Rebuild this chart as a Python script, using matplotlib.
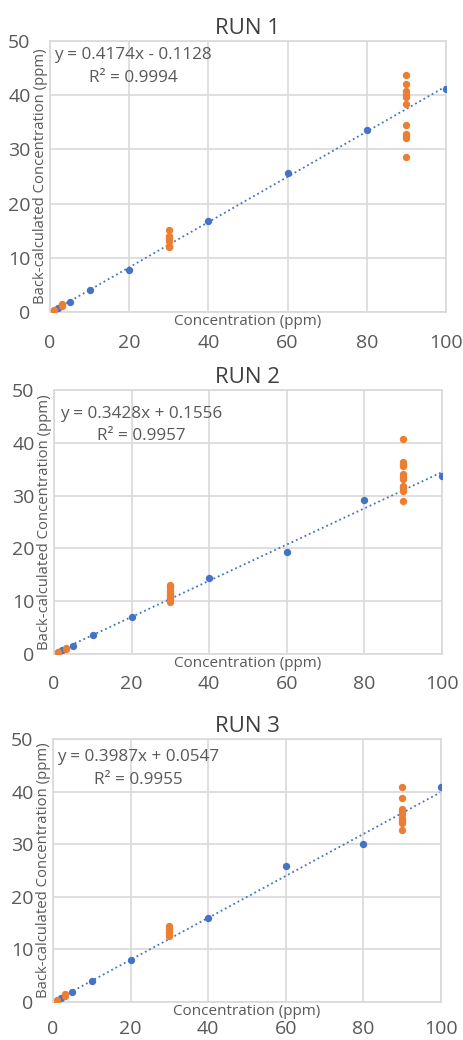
import matplotlib
matplotlib.use("Agg")
import matplotlib.pyplot as plt
import numpy as np

plt.rcParams['font.family'] = ['Open Sans', 'DejaVu Sans']

# calibration standards (blue)
std_x = [2, 5, 10, 20, 40, 60, 80, 100]
std_y1 = [0.7, 1.8, 4.0, 7.8, 16.8, 25.7, 33.5, 41.1]
std_y2 = [0.76, 1.6, 3.5, 7.0, 14.3, 19.3, 29.2, 33.7]
std_y3 = [0.76, 1.9, 4.0, 8.0, 15.9, 25.9, 30.0, 40.8]

# samples (orange)
smp_x1 = [1, 1, 3, 3, 3, 30, 30, 30, 30, 30, 30,
          90, 90, 90, 90, 90, 90, 90, 90, 90, 90, 90]
smp_y1 = [0.3, 0.4, 1.1, 1.3, 1.4, 15.2, 14.1, 13.6, 13.1, 12.2, 12.0,
          43.7, 42.0, 40.7, 40.1, 39.6, 38.4, 34.5, 32.8, 32.4, 32.1, 28.6]
smp_x2 = [1, 1, 3, 3, 30, 30, 30, 30, 30, 30, 30, 30, 30,
          90, 90, 90, 90, 90, 90, 90, 90, 90, 90, 90]
smp_y2 = [0.3, 0.4, 1.0, 1.2, 13.0, 12.6, 12.2, 11.8, 11.4, 11.0, 10.6, 10.2, 9.8,
          40.7, 36.4, 36.0, 35.6, 34.0, 33.6, 33.1, 31.8, 31.4, 30.9, 29.0]
smp_x3 = [1, 3, 3, 30, 30, 30, 30, 30,
          90, 90, 90, 90, 90, 90, 90, 90, 90]
smp_y3 = [0.4, 1.2, 1.5, 14.4, 13.9, 13.4, 12.8, 12.5,
          40.8, 38.8, 36.7, 36.3, 35.8, 35.0, 34.6, 34.1, 32.7]

titles = ["RUN 1", "RUN 2", "RUN 3"]
slopes = [0.4174, 0.3428, 0.3987]
intercepts = [-0.1128, 0.1556, 0.0547]
eq_lines = ["y = 0.4174x - 0.1128", "y = 0.3428x + 0.1556", "y = 0.3987x + 0.0547"]
r2_lines = ["R² = 0.9994", "R² = 0.9957", "R² = 0.9955"]

std_ys = [std_y1, std_y2, std_y3]
smp_xs = [smp_x1, smp_x2, smp_x3]
smp_ys = [smp_y1, smp_y2, smp_y3]

# axes rectangles in figure fraction, and equation label positions (axes fraction)
rects = [[0.108, 0.700, 0.855, 0.2606],
         [0.1166, 0.3712, 0.838, 0.2538],
         [0.1145, 0.0365, 0.838, 0.2529]]
xpads = [16, 15, 13]
eq_x = [0.21, 0.224, 0.219]
eq_y1 = [0.95, 0.908, 0.93]
eq_y2 = [0.865, 0.824, 0.846]

BLUE = "#4472C4"
ORANGE = "#ED7D31"
GRID = "#D9D9D9"
TXT = "#595959"

fig = plt.figure(figsize=(4.63, 10.40), dpi=100)

for i in range(3):
    ax = fig.add_axes(rects[i])
    xs = np.array([min(std_x), max(std_x)])
    ax.plot(xs, slopes[i] * xs + intercepts[i], ':', color=BLUE, lw=1.3, zorder=2)
    ax.scatter(std_x, std_ys[i], s=28, color=BLUE, zorder=3, linewidths=0)
    ax.scatter(smp_xs[i], smp_ys[i], s=28, color=ORANGE, zorder=4, linewidths=0)

    ax.set_xlim(0, 100)
    ax.set_ylim(0, 50)
    ax.set_xticks(range(0, 101, 20))
    ax.set_yticks(range(0, 51, 10))
    ax.grid(True, color=GRID, lw=1.2)
    ax.set_axisbelow(True)
    for sp in ax.spines.values():
        sp.set_color(GRID)
        sp.set_linewidth(1.2)
    ax.tick_params(length=0, labelsize=14, colors=TXT)
    ax.tick_params(axis='x', pad=xpads[i])
    ax.tick_params(axis='y', pad=14)

    ax.set_title(titles[i], fontsize=16, color="#404040", pad=5)
    ax.text(0.5, -0.008, "Concentration (ppm)", transform=ax.transAxes,
            ha='center', va='top', fontsize=11, color=TXT)
    ax.text(-0.005, 0.5, "Back-calculated Concentration (ppm)", transform=ax.transAxes,
            ha='right', va='center', rotation=90, fontsize=10.7, color=TXT)
    ax.text(eq_x[i], eq_y1[i], eq_lines[i], transform=ax.transAxes,
            ha='center', va='center', fontsize=12.3, color=TXT)
    ax.text(eq_x[i], eq_y2[i], r2_lines[i], transform=ax.transAxes,
            ha='center', va='center', fontsize=12.3, color=TXT)

fig.savefig("out.png", dpi=100)
